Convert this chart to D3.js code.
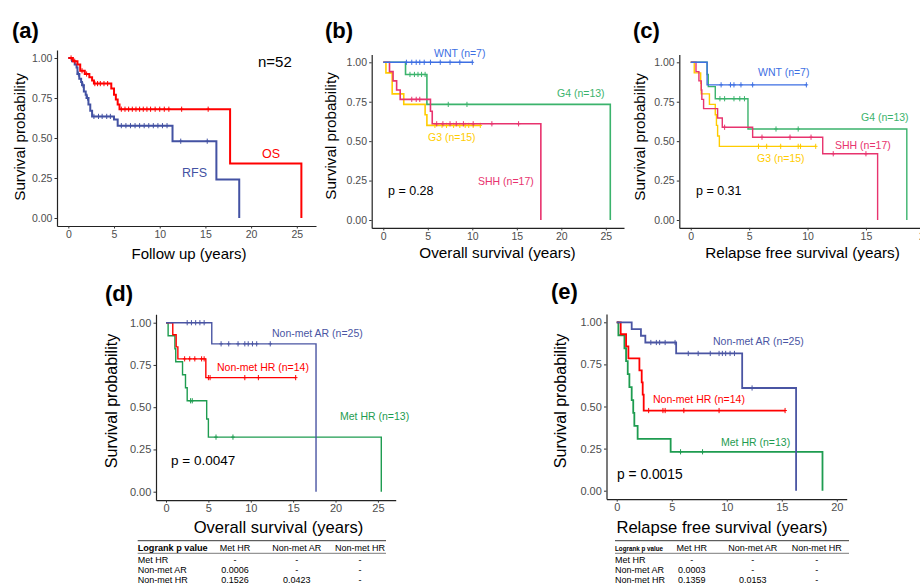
<!DOCTYPE html>
<html><head><meta charset="utf-8">
<script src="https://cdn.jsdelivr.net/npm/d3@7"></script>
<style>
body{margin:0;background:#fff;}
svg{display:block;font-family:"Liberation Sans",Arial,Helvetica,sans-serif;}
</style></head><body>
<svg id="chart" width="920" height="584"></svg>
<script>
// ---------------- DATA ----------------
const yTicks = [0, 0.25, 0.5, 0.75, 1];
const xTicks25 = [0, 5, 10, 15, 20, 25];
const xTicks20 = [0, 5, 10, 15, 20];

// (a) whole cohort
const aOsTime = [0.5,1.0,1.3,1.8,2.3,2.6,2.8,4.7,5.0,5.2,5.4,5.6,17.7,25.5];
const aOsSurv = [0.98,0.96,0.92,0.90,0.88,0.86,0.84,0.81,0.77,0.74,0.71,0.68,0.34,0];
const aOsCens = [0.3,0.7,1.5,2.0,2.9,3.2,3.5,3.9,4.3,5.8,6.2,6.6,7.0,7.4,7.8,8.2,8.6,9.0,9.5,10.0,10.5,11.0,12.4,15.3];
const aRfsTime = [0.4,0.7,0.9,1.0,1.2,1.4,1.5,1.7,1.9,2.0,2.2,2.4,2.6,5.0,5.4,11.4,16.2,18.7];
const aRfsSurv = [0.98,0.96,0.94,0.90,0.87,0.85,0.83,0.79,0.77,0.75,0.71,0.67,0.635,0.615,0.577,0.48,0.24,0];
const aRfsCens = [1.1,1.6,2.1,2.8,3.3,3.7,4.2,4.6,5.8,6.3,6.8,7.3,7.8,8.3,8.8,9.3,9.8,10.3,10.8,12.3,15.2];

// (b) overall survival by subgroup
const bWntTime = [], bWntSurv = [];
const bWntCens = [2.6,3.2,3.7,4.1,4.6,5.3,6.4,7.5,8.6,10.0];
const bG4Time = [2.5,4.9,25.5], bG4Surv = [0.923,0.733,0];
const bG4Cens = [3.0,3.5,3.9,4.3,4.7,7.3,9.4];
const bG3Time = [0.3,1.0,2.3,4.7,4.9], bG3Surv = [0.933,0.8,0.733,0.667,0.6];
const bG3Cens = [5.8,6.6,7.1,7.9,8.6,9.2,9.6,10.1,10.9];
const bShhTime = [0.7,1.1,1.5,1.9,5.3,5.5,17.7], bShhSurv = [0.941,0.882,0.824,0.765,0.69,0.61,0];
const bShhCens = [3.2,3.7,4.1,6.0,6.7,7.5,8.2,9.0,10.1,12.2,15.2];

// (c) relapse free survival by subgroup
const cWntTime = [1.4], cWntSurv = [0.857];
const cWntCens = [2.6,3.4,3.7,4.3,5.3,9.9];
const cG4Time = [1.4,1.5,2.1,4.9,18.5], cG4Surv = [0.923,0.846,0.769,0.577,0];
const cG4Cens = [2.5,2.9,3.7,4.2,4.6,7.3,9.2];
const cShhTime = [0.45,0.7,0.9,0.95,1.1,2.3,2.7,5.3,11.3,16.0];
const cShhSurv = [0.941,0.882,0.824,0.765,0.706,0.647,0.588,0.525,0.42,0];
const cShhCens = [2.9,6.1,8.5,10.3,12.2,15.0];
const cG3Time = [0.3,0.85,0.9,1.6,2.1,2.2,2.3,2.45];
const cG3Surv = [0.933,0.867,0.8,0.733,0.667,0.6,0.533,0.467];
const cG3Cens = [5.8,6.5,7.7,9.2,9.4,10.7];

// (d) overall survival by risk group
const dArTime = [5.4,17.7], dArSurv = [0.875,0];
const dArCens = [2.5,3.0,3.5,4.0,4.5,6.5,7.4,8.5,9.3,9.7,10.2,10.7,12.3];
const dHrTime = [0.8,1.2,1.4,4.7], dHrSurv = [0.929,0.857,0.786,0.675];
const dHrCens = [2.2,2.8,3.4,4.2,4.5,5.0,5.2,9.3,10.9,15.3];
const dMetTime = [0.25,1.05,1.15,1.95,2.3,2.5,4.8,5.0,25.4];
const dMetSurv = [0.923,0.846,0.769,0.692,0.615,0.538,0.43,0.323,0];
const dMetCens = [2.9,3.1,5.9,7.9];

// (e) relapse free survival by risk group
const eArTime = [1.36,2.2,2.6,5.4,11.4,16.3], eArSurv = [0.96,0.92,0.88,0.815,0.61,0];
const eArCens = [3.1,3.6,3.9,4.4,5.3,6.5,7.4,8.5,9.3,9.6,9.9,10.3,10.7,12.3];
const eHrTime = [0.36,0.85,1.06,2.06,2.27,2.36,2.45], eHrSurv = [0.929,0.857,0.786,0.714,0.643,0.571,0.476];
const eHrCens = [2.9,4.2,4.4,6.1,9.3,15.3];
const eMetTime = [0.15,0.7,0.85,1.0,1.15,1.36,1.5,1.6,1.9,4.9,18.7];
const eMetSurv = [0.923,0.846,0.769,0.692,0.615,0.538,0.462,0.385,0.308,0.231,0];
const eMetCens = [5.8,7.8];

// labels
const subgroupLabels = ["WNT (n=7)","G4 (n=13)","G3 (n=15)","SHH (n=17)"];
const riskLabels = ["Non-met AR (n=25)","Non-met HR (n=14)","Met HR (n=13)"];
const pValues = ["p = 0.28","p = 0.31","p = 0.0047","p = 0.0015"];

// tables
const tableHeader = ["Logrank p value","Met HR","Non-met AR","Non-met HR"];
const tableRows = ["Met HR","Non-met AR","Non-met HR"];
const dTable = [["-","-","-"],["0.0006","-","-"],["0.1526","0.0423","-"]];
const eTable = [["-","-","-"],["0.0003","-","-"],["0.1359","0.0153","-"]];

// ---------------- STYLE ----------------
const C = {
  os:"#FF0000", rfs:"#4352A3",
  wnt:"#3D6FE3", g4:"#3BB36C", g3:"#FFCC00", shh:"#E8336E",
  ar:"#4A55A3", hr:"#FF0000", met:"#1E9C50"
};

const panels = [
  {label:"(a)", lx:12, ly:37.5,
   x:{min:-1.24,max:27.1,l:57,r:316}, y:{b:218,t:58}, xt:xTicks25,
   tickFs:10.5, titleFs:15, xTitle:"Follow up (years)", xtX:189, xtY:258.5, ytX:24.5, ytY:137, ytFs:15.2, lw:2,
   curves:[
     {t:aRfsTime,s:aRfsSurv,c:aRfsCens,col:C.rfs},
     {t:aOsTime,s:aOsSurv,c:aOsCens,col:C.os}],
   texts:[
     {s:"n=52",x:258,y:67.4,fs:15,col:"#000"},
     {s:"OS",x:262,y:157.5,fs:12.5,col:C.os},
     {s:"RFS",x:182,y:176.5,fs:12.5,col:C.rfs}]},
  {label:"(b)", lx:325, ly:37.5,
   x:{min:-1.3,max:27.04,l:371.7,r:624}, y:{b:220,t:62.3}, xt:xTicks25,
   tickFs:10.5, titleFs:15.3, xTitle:"Overall survival (years)", xtX:497.5, xtY:258.3, ytX:335.5, ytY:136, ytFs:15.2, lw:1.6,
   curves:[
     {t:bG4Time,s:bG4Surv,c:bG4Cens,col:C.g4},
     {t:bG3Time,s:bG3Surv,c:bG3Cens,col:C.g3},
     {t:bShhTime,s:bShhSurv,c:bShhCens,col:C.shh},
     {t:bWntTime,s:bWntSurv,c:bWntCens,col:C.wnt}],
   texts:[
     {s:subgroupLabels[0],x:434,y:56.7,fs:10.5,col:C.wnt},
     {s:subgroupLabels[1],x:557,y:96.8,fs:10.5,col:C.g4},
     {s:subgroupLabels[2],x:428,y:140.8,fs:10.5,col:C.g3},
     {s:subgroupLabels[3],x:478,y:184.8,fs:10.5,col:C.shh},
     {s:pValues[0],x:388,y:195,fs:12.5,col:"#000"}]},
  {label:"(c)", lx:633, ly:37.5,
   x:{min:-0.98,max:19.8,l:679.3,r:922}, y:{b:220,t:62.3}, xt:xTicks20,
   tickFs:10.5, titleFs:15.3, xTitle:"Relapse free survival (years)", xtX:802.5, xtY:258.3, ytX:644.5, ytY:137, ytFs:15.2, lw:1.4,
   curves:[
     {t:cG4Time,s:cG4Surv,c:cG4Cens,col:C.g4},
     {t:cG3Time,s:cG3Surv,c:cG3Cens,col:C.g3},
     {t:cShhTime,s:cShhSurv,c:cShhCens,col:C.shh},
     {t:cWntTime,s:cWntSurv,c:cWntCens,col:C.wnt}],
   texts:[
     {s:subgroupLabels[0],x:758,y:75.8,fs:10.5,col:C.wnt},
     {s:subgroupLabels[1],x:861,y:120.8,fs:10.5,col:C.g4},
     {s:subgroupLabels[3],x:835,y:148.8,fs:10.5,col:C.shh},
     {s:subgroupLabels[2],x:757,y:161.8,fs:10.5,col:C.g3},
     {s:pValues[1],x:696,y:195,fs:12.5,col:"#000"}]},
  {label:"(d)", lx:105, ly:300.5,
   x:{min:-1.18,max:27.1,l:156,r:395.7}, y:{b:491.7,t:322.7}, xt:xTicks25,
   tickFs:11, titleFs:16.6, xTitle:"Overall survival (years)", xtX:278.5, xtY:533.3, ytX:117, ytY:401, ytFs:16, lw:1.4,
   curves:[
     {t:dMetTime,s:dMetSurv,c:dMetCens,col:C.met},
     {t:dHrTime,s:dHrSurv,c:dHrCens,col:C.hr},
     {t:dArTime,s:dArSurv,c:dArCens,col:C.ar}],
   texts:[
     {s:riskLabels[0],x:272,y:336.8,fs:10.5,col:C.ar},
     {s:riskLabels[1],x:217,y:370.8,fs:10.5,col:C.hr},
     {s:riskLabels[2],x:340,y:419.8,fs:10.5,col:C.met},
     {s:pValues[2],x:171,y:465,fs:13.5,col:"#000"}],
   table:{rows:dTable,l:137.7,r:386,cols:[235,296.7,360],hw:70,hfs:9}},
  {label:"(e)", lx:551, ly:299,
   x:{min:-0.93,max:20.9,l:606.5,r:846.7}, y:{b:490.7,t:322.3}, xt:xTicks20,
   tickFs:11, titleFs:16.6, xTitle:"Relapse free survival (years)", xtX:722, xtY:533.3, ytX:566, ytY:401, ytFs:16, lw:1.8,
   curves:[
     {t:eMetTime,s:eMetSurv,c:eMetCens,col:C.met},
     {t:eHrTime,s:eHrSurv,c:eHrCens,col:C.hr},
     {t:eArTime,s:eArSurv,c:eArCens,col:C.ar}],
   texts:[
     {s:riskLabels[0],x:713,y:344.8,fs:10.5,col:C.ar},
     {s:riskLabels[1],x:653,y:402.8,fs:10.5,col:C.hr},
     {s:riskLabels[2],x:721,y:445.8,fs:10.5,col:C.met},
     {s:pValues[3],x:617,y:479.3,fs:13.8,col:"#000"}],
   table:{rows:eTable,l:615,r:849,cols:[691.7,752.7,816.7],hw:48,hfs:7.2}}
];

// ---------------- DRAW ----------------
const svg = d3.select("#chart");

function stepPoints(times, surv, cens){
  const pts = [[0,1]];
  times.forEach((t,i)=>pts.push([t,surv[i]]));
  const last = pts[pts.length-1];
  const end = Math.max(last[0], cens.length ? d3.max(cens) : 0);
  if (end > last[0]) pts.push([end,last[1]]);
  return pts;
}
function survAt(times, surv, t){
  let s = 1;
  times.forEach((tt,i)=>{ if (tt <= t) s = surv[i]; });
  return s;
}

panels.forEach(p=>{
  const g = svg.append("g");
  const x0 = d3.scaleLinear().domain([p.x.min,p.x.max]).range([p.x.l,p.x.r]);
  const h = p.y.b - p.y.t;
  const y = d3.scaleLinear().domain([-0.05,1.05]).range([p.y.b+0.05*h, p.y.t-0.05*h]);
  const yBottom = y(-0.05);

  // curves
  const line = d3.line().x(d=>x0(d[0])).y(d=>y(d[1])).curve(d3.curveStepAfter);
  p.curves.forEach(cv=>{
    g.append("path").attr("d", line(stepPoints(cv.t,cv.s,cv.c)))
      .attr("fill","none").attr("stroke",cv.col).attr("stroke-width",p.lw)
      .attr("stroke-linejoin","miter");
    cv.c.forEach(ct=>{
      const cx = x0(ct), cy = y(survAt(cv.t,cv.s,ct));
      g.append("line").attr("x1",cx).attr("x2",cx).attr("y1",cy-2.6).attr("y2",cy+2.6)
        .attr("stroke",cv.col).attr("stroke-width",1);
      g.append("line").attr("x1",cx-1.8).attr("x2",cx+1.8).attr("y1",cy).attr("y2",cy)
        .attr("stroke",cv.col).attr("stroke-width",1);
    });
  });

  // axes
  const ax = g.append("g").attr("transform",`translate(${p.x.l},0)`)
    .call(d3.axisLeft(y).tickValues(yTicks).tickFormat(d3.format(".2f")).tickSize(2.5).tickPadding(2.2).tickSizeOuter(0));
  const bx = g.append("g").attr("transform",`translate(0,${yBottom})`)
    .call(d3.axisBottom(x0).tickValues(p.xt).tickFormat(d3.format("d")).tickSize(2.5).tickPadding(2).tickSizeOuter(0));
  [ax,bx].forEach(a=>{
    a.select(".domain").attr("stroke","#222").attr("stroke-width",1.2);
    a.selectAll(".tick line").attr("stroke","#333").attr("stroke-width",1);
    a.selectAll(".tick text").attr("fill","#4D4D4D").style("font-size",p.tickFs+"px")
      .style("font-family","'Liberation Sans',Arial,sans-serif");
  });

  // titles
  g.append("text").attr("x",p.xtX).attr("y",p.xtY).attr("text-anchor","middle")
    .style("font-size",p.titleFs+"px").attr("fill","#000").text(p.xTitle);
  g.append("text").attr("transform",`translate(${p.ytX},${p.ytY}) rotate(-90)`)
    .attr("text-anchor","middle").style("font-size",p.ytFs+"px").attr("fill","#000")
    .text("Survival probability");
  g.append("text").attr("x",p.lx).attr("y",p.ly).style("font-size","22px")
    .style("font-weight","bold").attr("fill","#000").text(p.label);

  // annotations
  p.texts.forEach(t=>{
    g.append("text").attr("x",t.x).attr("y",t.y).style("font-size",t.fs+"px")
      .attr("fill",t.col).text(t.s);
  });

  // table
  if (p.table){
    const tb = p.table;
    const tg = g.append("g").style("font-size","9px").attr("fill","#000");
    tg.append("line").attr("x1",tb.l).attr("x2",tb.r).attr("y1",540.7).attr("y2",540.7)
      .attr("stroke","#222").attr("stroke-width",0.9);
    tg.append("line").attr("x1",tb.l).attr("x2",tb.r).attr("y1",553.3).attr("y2",553.3)
      .attr("stroke","#444").attr("stroke-width",0.7);
    tg.append("text").attr("x",tb.l).attr("y",550.5).style("font-weight","bold")
      .style("font-size",tb.hfs+"px")
      .attr("textLength",tb.hw).attr("lengthAdjust","spacingAndGlyphs").text(tableHeader[0]);
    tableHeader.slice(1).forEach((hd,i)=>{
      tg.append("text").attr("x",tb.cols[i]).attr("y",550.5).attr("text-anchor","middle").text(hd);
    });
    const rowY = [562.6,572.8,583];
    tableRows.forEach((r,ri)=>{
      tg.append("text").attr("x",tb.l).attr("y",rowY[ri]).text(r);
      tb.rows[ri].forEach((v,ci)=>{
        tg.append("text").attr("x",tb.cols[ci]).attr("y",rowY[ri]).attr("text-anchor","middle").text(v);
      });
    });
  }
});
</script></body></html>
